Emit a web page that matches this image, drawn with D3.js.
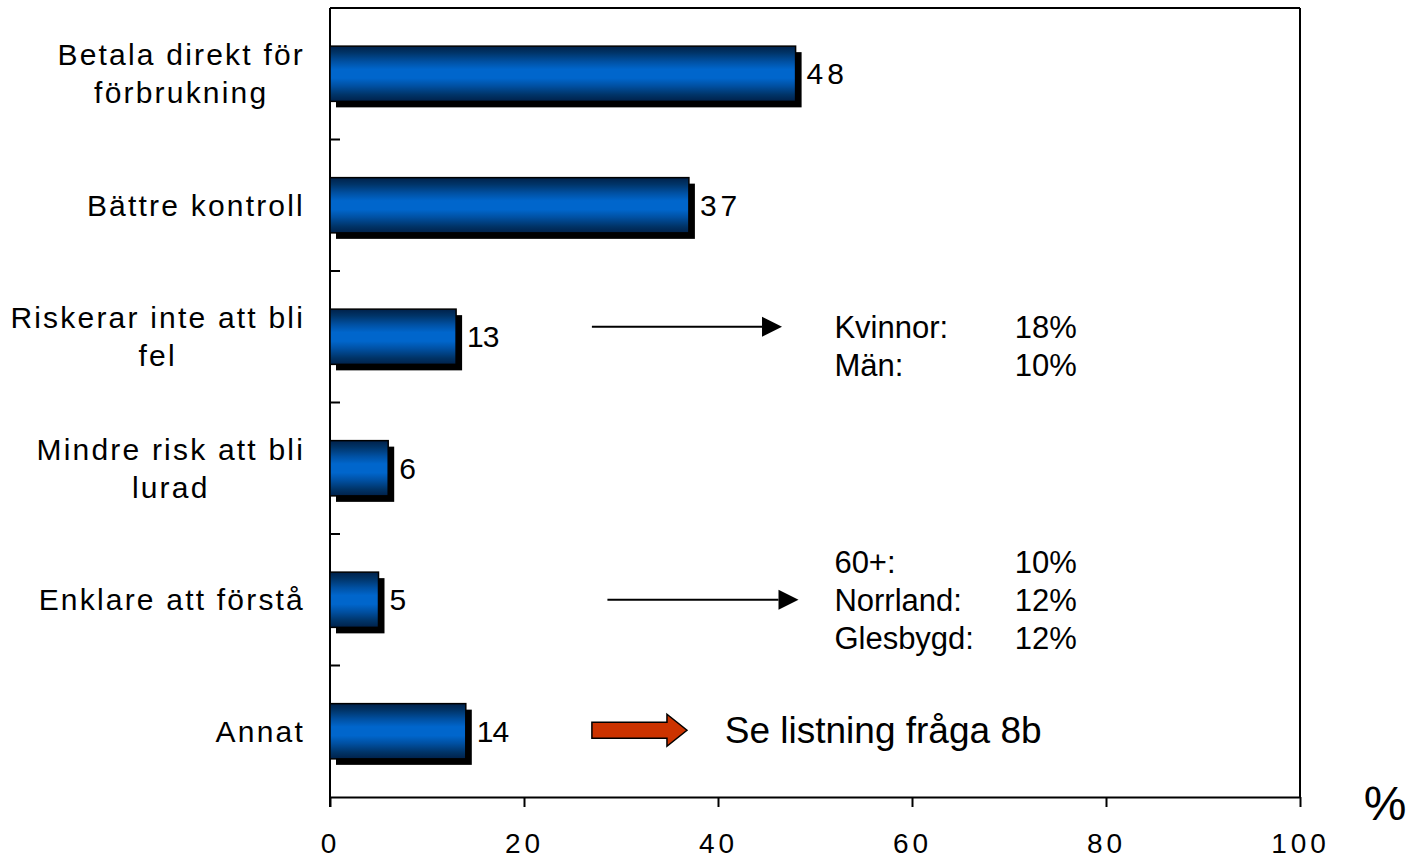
<!DOCTYPE html>
<html>
<head>
<meta charset="utf-8">
<script src="https://cdn.jsdelivr.net/npm/d3@7"></script>
<style>
  body { margin: 0; background: #fff; }
  text { font-family: "Liberation Sans", Arial, sans-serif; fill: #000; }
</style>
</head>
<body>
<svg width="1411" height="859"></svg>
<script>
// categories (top to bottom), label lines split with '|'
var categories = ['Betala direkt för|förbrukning', 'Bättre kontroll', 'Riskerar inte att bli|fel',
	'Mindre risk att bli|lurad', 'Enklare att förstå', 'Annat'];
var values = [48, 37, 13, 6, 5, 14];
var xTicks = [0, 20, 40, 60, 80, 100];

// side notes next to some bars
var noteCats = [categories[2], categories[4]];
var noteRows = [
	[['Kvinnor:', '18%'], ['Män:', '10%']],
	[['60+:', '10%'], ['Norrland:', '12%'], ['Glesbygd:', '12%']]
];
var annatNote = 'Se listning fråga 8b';

var svg = d3.select('svg'),
	width = +svg.attr('width'),
	height = +svg.attr('height');

// plot box (note: 'top' is a reserved window prop, so use p* names)
var pLeft = 330, pRight = 1300, pTop = 8, pBottom = 797;

var x = d3.scaleLinear().domain([0, 100]).range([pLeft, pRight]);
var y = d3.scaleBand().domain(categories).range([pTop, pBottom])
	.paddingInner(0.58).paddingOuter(0.29);
var step = y.step();

// banded blue gradient
var defs = svg.append('defs');
var grad = defs.append('linearGradient').attr('id', 'barGrad')
	.attr('x1', 0).attr('y1', 0).attr('x2', 0).attr('y2', 1);
[[0, '#00214a'], [0.12, '#003468'], [0.28, '#0050a2'], [0.42, '#0066cc'],
 [0.58, '#0066cc'], [0.72, '#0050a2'], [0.88, '#003468'], [1, '#00214a']]
	.forEach(function(s) {
		grad.append('stop').attr('offset', s[0]).attr('stop-color', s[1]);
	});

// frame top + right
svg.append('line').attr('x1', pLeft).attr('x2', pRight).attr('y1', pTop).attr('y2', pTop)
	.attr('stroke', '#000').attr('stroke-width', 2);
svg.append('line').attr('x1', pRight).attr('x2', pRight).attr('y1', pTop).attr('y2', pBottom)
	.attr('stroke', '#000').attr('stroke-width', 2);

// x axis
var xAxis = svg.append('g').attr('transform', 'translate(0,' + pBottom + ')')
	.call(d3.axisBottom(x).tickValues(xTicks).tickSize(10).tickSizeOuter(0).tickPadding(26));
xAxis.select('.domain').attr('stroke', '#000').attr('stroke-width', 2);
xAxis.selectAll('.tick line').attr('stroke', '#000').attr('stroke-width', 2);
xAxis.selectAll('.tick text')
	.style('font-family', '"Liberation Sans", Arial, sans-serif')
	.style('font-size', '28px').style('letter-spacing', '4px');

// y axis line + ticks between bands
svg.append('line').attr('x1', pLeft).attr('x2', pLeft).attr('y1', pTop).attr('y2', pBottom + 10)
	.attr('stroke', '#000').attr('stroke-width', 2);
d3.range(1, categories.length).forEach(function(i) {
	svg.append('line').attr('x1', pLeft).attr('x2', pLeft + 10)
		.attr('y1', pTop + i * step).attr('y2', pTop + i * step)
		.attr('stroke', '#000').attr('stroke-width', 2);
});

// bars: shadow then gradient bar
var data = categories.map(function(c, i) { return { cat: c, v: values[i] }; });
var off = 6;

svg.selectAll('.shadow').data(data).enter().append('rect')
	.attr('class', 'shadow')
	.attr('x', x(0) + off)
	.attr('y', function(d) { return y(d.cat) + off; })
	.attr('width', function(d) { return x(d.v) - x(0); })
	.attr('height', y.bandwidth())
	.attr('fill', '#000');

svg.selectAll('.bar').data(data).enter().append('rect')
	.attr('class', 'bar')
	.attr('x', x(0))
	.attr('y', function(d) { return y(d.cat); })
	.attr('width', function(d) { return x(d.v) - x(0); })
	.attr('height', y.bandwidth())
	.attr('fill', 'url(#barGrad)')
	.attr('stroke', '#000').attr('stroke-width', 1.5);

// value labels
svg.selectAll('.val').data(data).enter().append('text')
	.attr('class', 'val')
	.attr('x', function(d) { return x(d.v) + off + 5; })
	.attr('y', function(d) { return y(d.cat) + y.bandwidth() / 2; })
	.attr('dy', '0.35em')
	.style('font-size', '30px')
	.style('letter-spacing', function(d) { return d.v >= 20 ? '4px' : '-1px'; })
	.text(function(d) { return d.v; });

// category labels: block right-aligned, lines centred inside the block
var lineH = 38;
data.forEach(function(d) {
	var lines = d.cat.split('|');
	var g = svg.append('g');
	var texts = lines.map(function(l, k) {
		return g.append('text')
			.attr('y', y(d.cat) + y.bandwidth() / 2 + (k - (lines.length - 1) / 2) * lineH)
			.attr('dy', '0.35em')
			.attr('text-anchor', 'middle')
			.style('font-size', '30px').style('letter-spacing', '2.2px')
			.text(l);
	});
	var maxW = d3.max(texts, function(t) { return t.node().getComputedTextLength(); });
	texts.forEach(function(t) { t.attr('x', 305 - maxW / 2); });
});

// side notes with black arrows
var arrowStart = [27, 28.6], arrowEnd = [46.6, 48.3], arrowDy = [-10, 0];

noteCats.forEach(function(c, i) {
	var cy = y(c) + y.bandwidth() / 2;
	var ay = cy + arrowDy[i];
	svg.append('line')
		.attr('x1', x(arrowStart[i])).attr('x2', x(arrowEnd[i]) - 20)
		.attr('y1', ay).attr('y2', ay)
		.attr('stroke', '#000').attr('stroke-width', 2);
	svg.append('path')
		.attr('d', 'M' + (x(arrowEnd[i]) - 20) + ',' + (ay - 10) +
			'L' + x(arrowEnd[i]) + ',' + ay +
			'L' + (x(arrowEnd[i]) - 20) + ',' + (ay + 10) + 'Z')
		.attr('fill', '#000');
	var rows = noteRows[i];
	rows.forEach(function(r, k) {
		var ry = (rows.length === 2 ? cy - 10 : cy - 38) + k * 38;
		svg.append('text').attr('x', x(52)).attr('y', ry).attr('dy', '0.35em')
			.style('font-size', '31px').text(r[0]);
		svg.append('text').attr('x', x(70.6)).attr('y', ry).attr('dy', '0.35em')
			.style('font-size', '31px').text(r[1]);
	});
});

// red block arrow for "Annat"
var ry0 = y('Annat') + y.bandwidth() / 2 - 1;
var ax0 = x(27), ax1 = x(36.8), headW = 20;
svg.append('path')
	.attr('d', 'M' + ax0 + ',' + (ry0 - 8) + 'L' + (ax1 - headW) + ',' + (ry0 - 8) +
		'L' + (ax1 - headW) + ',' + (ry0 - 16) + 'L' + ax1 + ',' + ry0 +
		'L' + (ax1 - headW) + ',' + (ry0 + 16) + 'L' + (ax1 - headW) + ',' + (ry0 + 8) +
		'L' + ax0 + ',' + (ry0 + 8) + 'Z')
	.attr('fill', '#cc3300').attr('stroke', '#000').attr('stroke-width', 1.5);
svg.append('text').attr('x', x(40.7)).attr('y', ry0).attr('dy', '0.35em')
	.style('font-size', '37px').text(annatNote);

// unit label
svg.append('text').attr('x', 1385).attr('y', 803).attr('dy', '0.35em')
	.attr('text-anchor', 'middle').style('font-size', '48px').text('%');
</script>
</body>
</html>
